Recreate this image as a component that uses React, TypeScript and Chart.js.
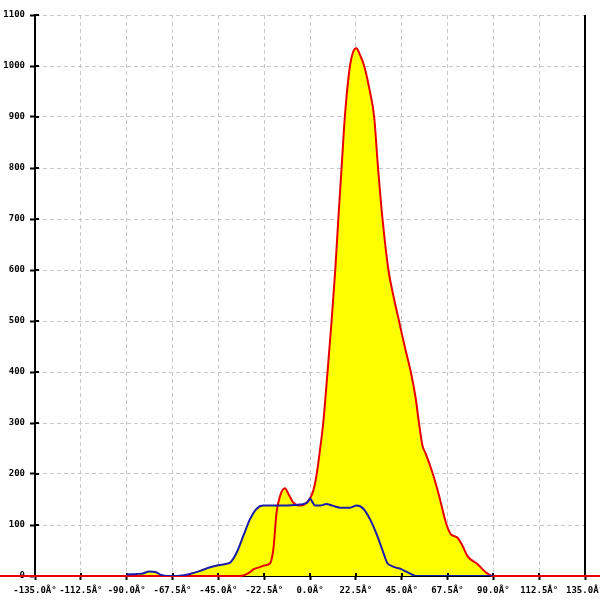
import React, { useEffect, useRef } from "react";
import { Chart, registerables } from "chart.js";

Chart.register(...registerables);

// X tick values (degrees) and Y ticks
const xTickMin = -135;
const xTickMax = 135;
const xTickStep = 22.5;
const yTickMin = 0;
const yTickMax = 1100;
const yTickStep = 100;

// Red series (angle in degrees, value)
const redAngles = [
  -155, -35, -32.7, -30, -27.8, -25, -22.1, -19.6, -18, -16.4, -14.7, -12.3, -10.6, -8.2, -4.9, -2.5, 0, 1.6,
  3.3, 5, 6.5, 8.6, 10.6, 12.4, 13.9, 15.5, 17.1, 19.6, 21.2, 22.8, 24.5, 26.6, 29.4, 31.5, 33.4, 35.6, 38.5,
  41, 43.7, 46.5, 49.5, 51.9, 53.5, 55.2, 56.8, 60.1, 63.4, 66.7, 69.1, 72.4, 74.9, 77.3, 82.3, 86.4, 89.7, 155,
];
const redValues = [
  0, 0, 1, 6, 13, 17, 21, 25, 52, 125, 157, 172, 161, 144, 138, 141, 152, 167,
  200, 250, 300, 400, 500, 600, 700, 800, 900, 1000, 1028, 1035, 1022, 1000, 950, 900, 800, 700, 600,
  548, 500, 450, 400, 348, 300, 256, 240, 203, 157, 105, 82, 75, 59, 39, 23, 7, 0, 0,
];

// Blue series (angle in degrees, value)
const blueAngles = [
  -90, -85, -82, -79, -76, -73, -70, -67.5, -63, -59, -54, -49, -45, -41, -39, -36, -32.7, -29.5, -26.2, -23,
  -18, -13, -8, -5, -1.3, 0, 1.2, 2.5, 5, 8, 11, 15, 19.6, 22.9, 26.2, 29.5, 32.7, 36, 38, 40, 42.6, 44.5,
  47, 50, 52, 90,
];
const blueValues = [
  3, 4, 5, 9, 8, 2, 0, 0, 1, 4, 10, 17, 21, 24, 27, 46, 79, 111, 132, 138,
  138, 138, 139, 140, 144, 152, 145, 138, 138, 141, 138, 134, 134, 138, 132, 111, 82, 46, 25, 20, 16, 14,
  9, 3, 0, 0,
];

const redPoints = redAngles.map((a, i) => ({ x: a, y: redValues[i] }));
const bluePoints = blueAngles.map((a, i) => ({ x: a, y: blueValues[i] }));

const tickFont = { family: "'DejaVu Sans Mono', monospace", size: 9, weight: "bold" as const };

const axisExtras = {
  id: "axisExtras",
  beforeDatasetsDraw(chart: any) {
    const { ctx, chartArea, scales } = chart;
    ctx.save();
    ctx.strokeStyle = "#000";
    ctx.lineWidth = 2;
    // right border
    ctx.beginPath();
    ctx.moveTo(chartArea.right, chartArea.top);
    ctx.lineTo(chartArea.right, chartArea.bottom);
    ctx.stroke();
    // inner tick marks on y axis
    scales.y.ticks.forEach((t: any) => {
      const py = Math.round(scales.y.getPixelForValue(t.value));
      ctx.beginPath();
      ctx.moveTo(chartArea.left, py);
      ctx.lineTo(chartArea.left + 4, py);
      ctx.stroke();
    });
    // inner tick marks on x axis
    scales.x.ticks.forEach((t: any) => {
      const px = Math.round(scales.x.getPixelForValue(t.value));
      ctx.beginPath();
      ctx.moveTo(px, chartArea.bottom);
      ctx.lineTo(px, chartArea.bottom - 3);
      ctx.stroke();
    });
    ctx.restore();
  },
};

export default function App() {
  const ref = useRef<HTMLCanvasElement>(null);
  useEffect(() => {
    if (!ref.current) return;
    const chart = new Chart(ref.current, {
      type: "line",
      data: {
        datasets: [
          {
            label: "blue",
            data: bluePoints,
            borderColor: "#1c1caa",
            borderWidth: 2,
            backgroundColor: "#ffff00",
            fill: "origin",
            pointRadius: 0,
            cubicInterpolationMode: "monotone",
            order: 0,
          },
          {
            label: "red",
            data: redPoints,
            borderColor: "#e80000",
            borderWidth: 2,
            backgroundColor: "#ffff00",
            fill: "origin",
            pointRadius: 0,
            cubicInterpolationMode: "monotone",
            clip: false as any,
            order: 1,
          },
        ],
      },
      options: {
        animation: false,
        responsive: false,
        layout: { padding: { top: 15, right: 15, left: 0, bottom: 0 } },
        plugins: {
          legend: { display: false },
          tooltip: { enabled: false },
          filler: { drawTime: "beforeDatasetsDraw" } as any,
        },
        scales: {
          x: {
            type: "linear",
            min: xTickMin,
            max: xTickMax,
            ticks: {
              stepSize: xTickStep,
              autoSkip: false,
              maxRotation: 0,
              minRotation: 0,
              padding: 5,
              color: "#000",
              font: tickFont,
              callback: (v: any) => `${Number(v).toFixed(1)}Â°`,
            },
            grid: {
              color: "#c8c8c8",
              lineWidth: 1,
              tickLength: 4,
              tickColor: "#000",
              tickWidth: 2,
            },
            border: { color: "#000", width: 2, dash: [4, 3] },
            afterFit: (s: any) => {
              s.height = 24;
              s.paddingLeft = 0;
              s.paddingRight = 0;
            },
          },
          y: {
            type: "linear",
            min: yTickMin,
            max: yTickMax,
            ticks: {
              stepSize: yTickStep,
              padding: 5,
              color: "#000",
              font: tickFont,
              callback: (v: any) => String(v),
            },
            grid: {
              color: "#c8c8c8",
              lineWidth: 1,
              tickLength: 5,
              tickColor: "#000",
              tickWidth: 2,
            },
            border: { color: "#000", width: 2, dash: [4, 3] },
            afterFit: (s: any) => {
              s.width = 35;
              s.paddingTop = 0;
              s.paddingBottom = 0;
            },
          },
        },
      },
      plugins: [axisExtras],
    });
    return () => chart.destroy();
  }, []);
  return (
    <div style={{ position: "absolute", left: 0, top: 0, width: 600, height: 600, background: "#fff" }}>
      <canvas ref={ref} width={600} height={600} />
    </div>
  );
}
